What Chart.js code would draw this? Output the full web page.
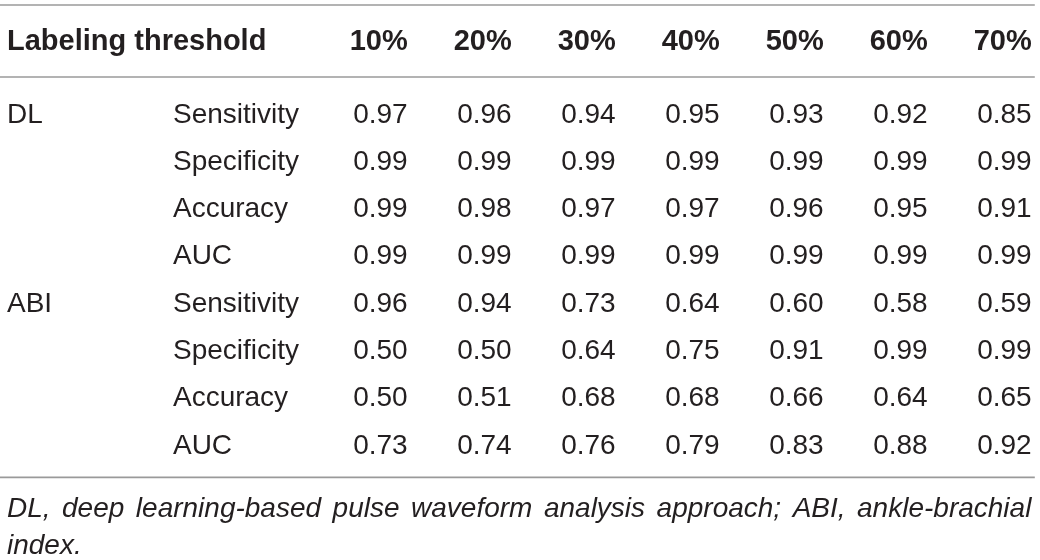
<!DOCTYPE html>
<html lang="en">
<head>
  <meta charset="UTF-8">
  <title>Labeling threshold - DL vs ABI</title>
  <script src="https://cdn.jsdelivr.net/npm/chart.js"></script>
</head>
<body style="margin:0; background:#fff;">

  <div style="position:relative; width:1040px; height:560px;">
    <canvas id="tableChart"></canvas>
  </div>

  <script>
    // DATA
    const thresholds = ['10%', '20%', '30%', '40%', '50%', '60%', '70%'];
    const headerLabel = 'Labeling threshold';
    const methods = ['DL', 'ABI'];
    const metrics = ['Sensitivity', 'Specificity', 'Accuracy', 'AUC'];

    const dlSensitivity  = [0.97, 0.96, 0.94, 0.95, 0.93, 0.92, 0.85];
    const dlSpecificity  = [0.99, 0.99, 0.99, 0.99, 0.99, 0.99, 0.99];
    const dlAccuracy     = [0.99, 0.98, 0.97, 0.97, 0.96, 0.95, 0.91];
    const dlAuc          = [0.99, 0.99, 0.99, 0.99, 0.99, 0.99, 0.99];

    const abiSensitivity = [0.96, 0.94, 0.73, 0.64, 0.60, 0.58, 0.59];
    const abiSpecificity = [0.50, 0.50, 0.64, 0.75, 0.91, 0.99, 0.99];
    const abiAccuracy    = [0.50, 0.51, 0.68, 0.68, 0.66, 0.64, 0.65];
    const abiAuc         = [0.73, 0.74, 0.76, 0.79, 0.83, 0.88, 0.92];

    const footnoteLines = [
      'DL, deep learning-based pulse waveform analysis approach; ABI, ankle-brachial',
      'index.'
    ];

    const rows = [
      { method: 'DL',  metric: 'Sensitivity', values: dlSensitivity },
      { method: '',    metric: 'Specificity', values: dlSpecificity },
      { method: '',    metric: 'Accuracy',    values: dlAccuracy },
      { method: '',    metric: 'AUC',         values: dlAuc },
      { method: 'ABI', metric: 'Sensitivity', values: abiSensitivity },
      { method: '',    metric: 'Specificity', values: abiSpecificity },
      { method: '',    metric: 'Accuracy',    values: abiAccuracy },
      { method: '',    metric: 'AUC',         values: abiAuc }
    ];

    // LAYOUT (in scale units)
    const methodCol = -3.853;
    const metricCol = -2.257;
    const headerRow = -1.533;
    const ruleRows = [-2.272, -0.751, 7.715];
    const ruleFrom = -3.92, ruleTo = 6.03;
    const noteRows = [8.34, 9.12];
    const noteFrom = methodCol, noteTo = 5.997;

    const textColor = '#231f20';
    const ruleColor = '#9a9a9a';
    const fontFamily = "'Liberation Sans', Arial, sans-serif";
    const fontSize = 28;
    const headerSize = 29;
    const noteSize = 28;

    // TABLE PLUGIN
    const tablePlugin = {
      id: 'tableText',
      afterDatasetsDraw(chart) {
        const ctx = chart.ctx;
        const xs = chart.scales.x;
        const ys = chart.scales.y;
        const lift = fontSize * 0.358;

        ctx.save();

        // rules
        ctx.strokeStyle = ruleColor;
        ctx.lineWidth = 1.6;
        ruleRows.forEach(r => {
          const y = ys.getPixelForValue(r);
          ctx.beginPath();
          ctx.moveTo(xs.getPixelForValue(ruleFrom), y);
          ctx.lineTo(xs.getPixelForValue(ruleTo), y);
          ctx.stroke();
        });

        ctx.fillStyle = textColor;
        ctx.textBaseline = 'alphabetic';

        // header
        ctx.font = 'bold ' + headerSize + 'px ' + fontFamily;
        const hy = ys.getPixelForValue(headerRow) + headerSize * 0.358;
        ctx.textAlign = 'left';
        ctx.fillText(headerLabel, xs.getPixelForValue(methodCol), hy);
        ctx.textAlign = 'right';
        thresholds.forEach((t, i) => ctx.fillText(t, xs.getPixelForValue(i), hy));

        // row labels
        ctx.font = fontSize + 'px ' + fontFamily;
        ctx.textAlign = 'left';
        rows.forEach((row, k) => {
          const y = ys.getPixelForValue(k) + lift;
          if (row.method) ctx.fillText(row.method, xs.getPixelForValue(methodCol), y);
          ctx.fillText(row.metric, xs.getPixelForValue(metricCol), y);
        });

        // cell values, placed at the points of each dataset
        ctx.textAlign = 'right';
        chart.data.datasets.forEach((ds, d) => {
          const meta = chart.getDatasetMeta(d);
          meta.data.forEach((pt, i) => {
            ctx.fillText(ds.data[i].v.toFixed(2), pt.x, pt.y + lift);
          });
        });

        // footnote, justified
        ctx.font = 'italic ' + noteSize + 'px ' + fontFamily;
        ctx.textAlign = 'left';
        const left = xs.getPixelForValue(noteFrom);
        const right = xs.getPixelForValue(noteTo);
        footnoteLines.forEach((line, n) => {
          const y = ys.getPixelForValue(noteRows[n]) + noteSize * 0.358;
          const words = line.split(' ');
          const last = n === footnoteLines.length - 1;
          const wordsWidth = words.reduce((s, w) => s + ctx.measureText(w).width, 0);
          const gap = (!last && words.length > 1)
            ? (right - left - wordsWidth) / (words.length - 1)
            : ctx.measureText(' ').width;
          let x = left;
          words.forEach(w => {
            ctx.fillText(w, x, y);
            x += ctx.measureText(w).width + gap;
          });
        });

        ctx.restore();
      }
    };

    // CHART
    const datasets = rows.map((row, k) => ({
      label: (row.method || rows[k - (k % 4)].method) + ' ' + row.metric,
      data: row.values.map((v, i) => ({ x: i, y: k, v: v })),
      pointRadius: 0,
      showLine: false
    }));

    new Chart(document.getElementById('tableChart'), {
      type: 'scatter',
      data: { datasets: datasets },
      options: {
        responsive: true,
        maintainAspectRatio: false,
        animation: false,
        events: [],
        layout: { padding: 0 },
        scales: {
          x: { type: 'linear', min: -3.92, max: 6.08, display: false },
          y: { type: 'linear', min: -2.378, max: 9.461, reverse: true, display: false }
        },
        plugins: {
          legend: { display: false },
          tooltip: { enabled: false }
        }
      },
      plugins: [tablePlugin]
    });
  </script>

</body>
</html>
